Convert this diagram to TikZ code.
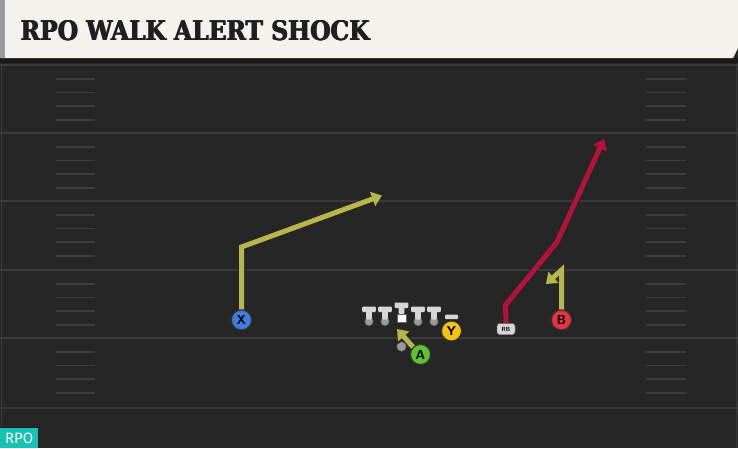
\documentclass[tikz,border=0pt]{standalone}
\usepackage{fontspec}
\setmainfont{DejaVu Serif}
\newfontfamily\labfont{Fira Sans}
\usetikzlibrary{arrows.meta}
\definecolor{field}{HTML}{262626}
\definecolor{yard}{HTML}{3A3A3A}
\definecolor{hashc}{HTML}{3C3C3C}
\definecolor{cream}{HTML}{F4F2EC}
\definecolor{routey}{HTML}{B7B64C}
\definecolor{router}{HTML}{B3123A}
\definecolor{xblue}{HTML}{3C7FE0}
\definecolor{yyel}{HTML}{F2C312}
\definecolor{agreen}{HTML}{5CC22E}
\definecolor{bred}{HTML}{E5333F}
\definecolor{teal}{HTML}{16C2B4}
\definecolor{lgray}{HTML}{D6D6D6}
\definecolor{dgray}{HTML}{9A9A9A}
\newcommand{\titletext}{\resizebox{349pt}{20pt}{\bfseries RPO WALK ALERT SHOCK}}
\tikzset{
  yardline/.style={draw=yard, line width=2pt},
  hashline/.style={draw=hashc, line width=1.8pt},
  routeunder/.style={draw=black!85, line width=7pt, -{Triangle[length=12pt,width=17pt]}},
  routeyel/.style={draw=routey, line width=5pt, line join=miter},
  routered/.style={draw=router, line width=5pt, line join=miter},
  tipstyle/.style={-{Triangle[length=10pt,width=14.5pt]}},
  player/.style={circle, draw=black!80, line width=1pt, minimum size=20pt, inner sep=0pt, font=\sffamily\bfseries\fontsize{13}{13}\selectfont, text=black},
  rbbox/.style={draw=black!70, fill=lgray, rounded corners=2.5pt, minimum width=18pt, minimum height=11pt, inner sep=0pt, font=\sffamily\bfseries\fontsize{6}{6}\selectfont},
  lineman/.style={fill=lgray, rounded corners=1pt},
  dot/.style={circle, fill=dgray, draw=black!60, line width=0.4pt, minimum size=9.5pt, inner sep=0pt},
  titlestyle/.style={anchor=south west, inner sep=0pt, text=black!88},
}
\begin{document}
\begin{tikzpicture}[x=1pt,y=-1pt]
\useasboundingbox (0,0) rectangle (738,448);
\fill[field] (0,0) rectangle (738,448);
% yard lines
\foreach \yy in {65,133,201,270,338,408} {\draw[yardline] (0,\yy) -- (738,\yy);}
% hash marks
\foreach \base in {65,133,201,270,338} {
  \foreach \k in {1,2,3,4} {
    \draw[hashline] (56,\base+\k*13.7) -- (95,\base+\k*13.7);
    \draw[hashline] (646,\base+\k*13.7) -- (686,\base+\k*13.7);
  }
}
\draw[draw=yard, line width=1.5pt] (1.5,62) -- (1.5,448);
\draw[draw=yard, line width=1.5pt] (736.5,62) -- (736.5,448);
% header
\fill[black!90] (0,58) rectangle (738,63);
\fill[cream] (0,0) -- (738,0) -- (738,48) -- (733,58) -- (0,58) -- cycle;
\fill[dgray] (0,0) rectangle (5,58);
\node[titlestyle] (title) at (20,41) {\titletext};
\node[titlestyle] at (20.5,41) {\titletext};
\node[titlestyle] at (21,41) {\titletext};
% RPO tag
\fill[black!90] (0,427) rectangle (39,448);
\node[fill=teal, anchor=south west, minimum width=38pt, minimum height=19.5pt, inner sep=0pt, text=white, font=\labfont\fontsize{15}{15}\selectfont] (rpo) at (0,448) {RPO};
% players
\node[player, fill=xblue] (X) at (241.5,320) {X};
\node[player, fill=yyel] (Y) at (451.5,331) {Y};
\node[player, fill=agreen] (A) at (420.5,354.5) {A};
\node[player, fill=bred] (B) at (561.5,320) {B};
\node[dot] (qb) at (401.5,346.5) {};
\node[rbbox] (RB) at (506,329) {RB};
% route waypoints
\coordinate (xc) at (241.5,247);
\coordinate (xe) at (382,195.5);
\coordinate (ae) at (397,329);
\coordinate (bc) at (561.5,270);
\coordinate (be) at (546,284);
\coordinate (r1) at (505.5,305);
\coordinate (r2) at (557,242);
\coordinate (re) at (604,139);
% route underlays
\draw[routeunder] (X.north) -- (xc) -- (xe);
\draw[routeunder] (A.north west) -- (ae);
\draw[routeunder] (B.north) -- (bc) -- (be);
\draw[routeunder] (RB.north) -- (r1) -- (r2) -- (re);
% routes
\draw[routeyel, tipstyle] (X.north) -- (xc) -- (xe);
\draw[routeyel, tipstyle] (A.north west) -- (ae);
\draw[routeyel, tipstyle] (B.north) -- (bc) -- (be);
\draw[routered, tipstyle] (RB.north) -- (r1) -- (r2) -- (re);
% redraw player markers on top of route starts
\node[player, fill=xblue] at (X) {X};
\node[player, fill=agreen] at (A) {A};
\node[player, fill=bred] at (B) {B};
\node[rbbox] at (RB) {RB};
% offensive line
\foreach \lx/\nm in {369/l1,385/l2,418/l4,434/l5} {
  \node[dot, minimum size=8.5pt] (\nm) at (\lx,321.5) {};
  \fill[lineman] (\lx-6.8,306.5) rectangle (\lx+6.8,312);
  \fill[lineman] (\lx-2.8,311) rectangle (\lx+2.8,319.5);
}
\fill[lineman] (401.5-6.8,302.5) rectangle (401.5+6.8,308);
\fill[lineman] (401.5-2.8,307) rectangle (401.5+2.8,314);
\node[fill=white, draw=black!60, line width=0.4pt, minimum size=8.5pt, inner sep=0pt] (C) at (401.5,318) {};
\fill[lineman] (445,314.5) rectangle (458,319);
\end{tikzpicture}
\end{document}
